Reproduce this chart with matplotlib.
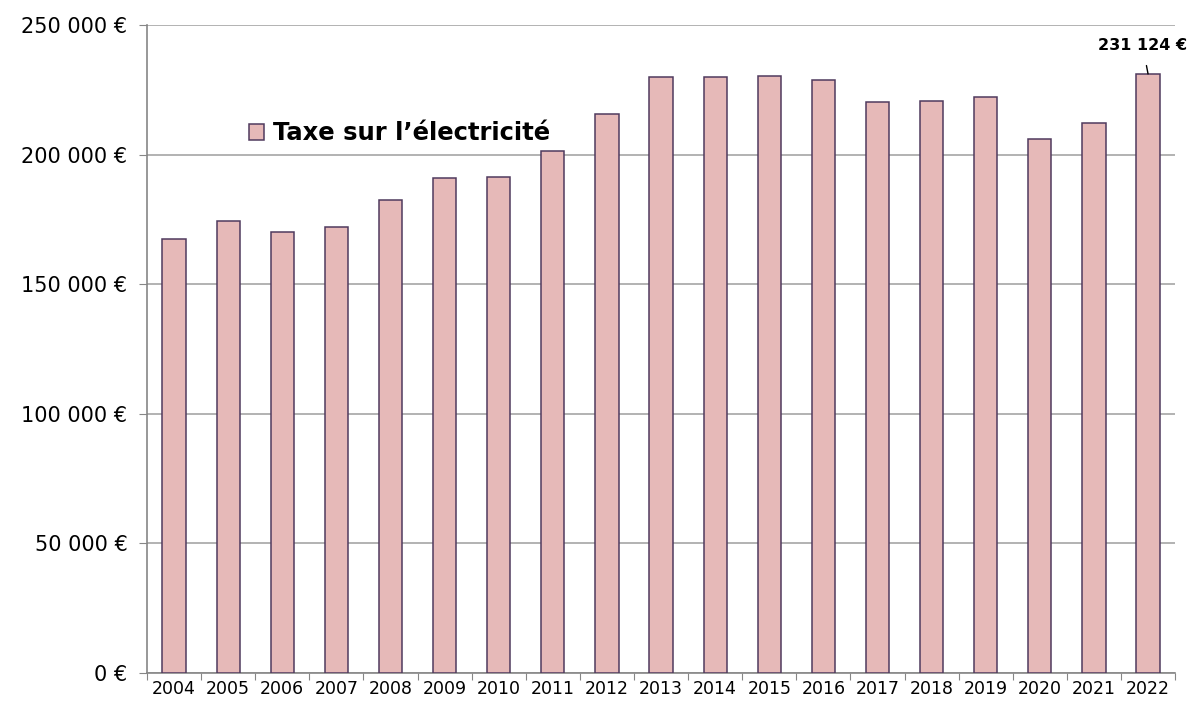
import matplotlib.pyplot as plt
from matplotlib.ticker import FuncFormatter, MultipleLocator

years = ['2004', '2005', '2006', '2007', '2008', '2009', '2010', '2011', '2012', '2013',
         '2014', '2015', '2016', '2017', '2018', '2019', '2020', '2021', '2022']
taxe = [167400, 174400, 170100, 172100, 182500, 191000, 191400, 201400, 215700, 229900,
        229900, 230300, 228800, 220300, 220700, 222200, 206000, 212200, 231124]

fig = plt.figure(figsize=(11.93, 7.02), dpi=100)
ax = fig.add_axes([0.1232, 0.0413, 0.8618, 0.9231])

x = list(range(len(years)))
ax.bar(x, taxe, width=0.43, color='#E6B9B8', edgecolor='#4F3A5E', linewidth=1.1,
       label='Taxe sur l\u2019électricité', zorder=3)

ax.set_xlim(-0.5, len(years) - 0.5)
ax.set_ylim(0, 250000)
ax.yaxis.set_major_locator(MultipleLocator(50000))
ax.yaxis.set_major_formatter(FuncFormatter(lambda v, p: f"{int(v):,} €".replace(',', ' ')))
ax.grid(axis='y', color='#A6A6A6', linewidth=1.2, zorder=0)

ax.set_xticks([i - 0.5 for i in range(len(years) + 1)])
ax.set_xticklabels([])
ax.set_xticks(x, minor=True)
ax.set_xticklabels(years, minor=True, fontsize=12.5)
ax.tick_params(axis='x', which='minor', length=0, pad=5)
ax.tick_params(axis='x', which='major', length=5, color='#868686')
ax.tick_params(axis='y', labelsize=15, length=6, color='#868686', pad=8)

for s in ['top', 'right']:
    ax.spines[s].set_visible(False)
ax.spines['left'].set_color('#868686')
ax.spines['bottom'].set_color('#868686')
ax.spines['left'].set_linewidth(1.2)
ax.spines['bottom'].set_linewidth(1.2)

ax.annotate('231 124 €', xy=(x[-1], taxe[-1]), xytext=(x[-1] - 0.1, 242000),
            fontsize=11.5, fontweight='bold', ha='center', va='center',
            arrowprops=dict(arrowstyle='-', color='black', lw=1, shrinkA=7, shrinkB=0))

ax.legend(loc='upper left', bbox_to_anchor=(0.078, 0.885), frameon=False,
          prop={'size': 17.5, 'weight': 'bold'}, handlelength=0.6, handleheight=0.6,
          handletextpad=0.4)

plt.savefig('out.png')
